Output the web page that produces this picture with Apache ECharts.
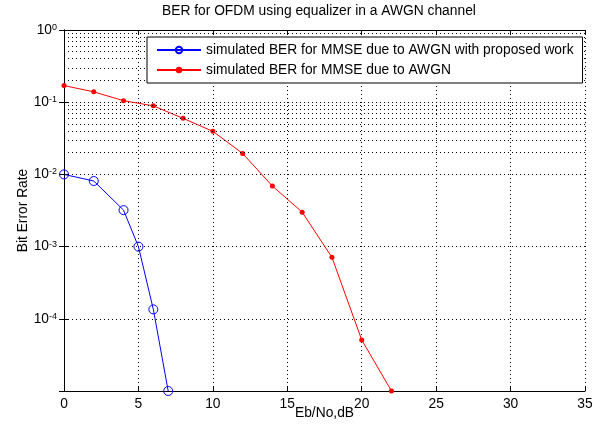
<!DOCTYPE html>
<html>
<head>
<meta charset="utf-8">
<script src="https://cdn.jsdelivr.net/npm/echarts@6/dist/echarts.min.js"></script>
<style>
html,body{margin:0;padding:0;background:#fff;}
#c{width:600px;height:429px;}
</style>
</head>
<body>
<div id="c"></div>
<script>
// Data
const ebnoProposed = [0, 2, 4, 5, 6, 7];
const berProposed = [0.0100, 0.0081, 0.0032, 0.0010, 0.000135, 0.00001];
const ebnoMMSE = [0, 2, 4, 6, 8, 10, 12, 14, 16, 18, 20, 22];
const berMMSE = [0.17, 0.139, 0.105, 0.089, 0.0597, 0.0395, 0.0195, 0.0069, 0.003, 0.00071, 0.000051, 0.00001];
const xTicks = [0, 5, 10, 15, 20, 25, 30, 35];
const yDecades = [1e-5, 1e-4, 1e-3, 1e-2, 1e-1, 1];
const minorMultipliers = [2, 3, 4, 5, 6, 7, 8, 9];
const seriesNames = ['simulated BER for MMSE due to AWGN with proposed work', 'simulated BER for MMSE due to AWGN'];

const FONT = 'Liberation Sans, Arial, sans-serif';
const FS = 13.8;
const dotted = [1, 3];

const minorLines = [];
yDecades.slice(0, -1).forEach(d => minorMultipliers.forEach(m => minorLines.push({ yAxis: d * m })));

const chart = echarts.init(document.getElementById('c'), null, { renderer: 'canvas' });

const xBase = {
  type: 'value', min: xTicks[0], max: xTicks[xTicks.length - 1], interval: 5,
  axisLine: { show: true, lineStyle: { color: '#000', width: 1 } },
  axisTick: { show: true, inside: true, length: 5, lineStyle: { color: '#000' } },
};
const yBase = {
  type: 'log', logBase: 10, min: yDecades[0], max: yDecades[yDecades.length - 1],
  axisLine: { show: true, lineStyle: { color: '#000', width: 1 } },
  axisTick: { show: true, inside: true, length: 5, lineStyle: { color: '#000' } },
};

chart.setOption({
  animation: false,
  backgroundColor: '#fff',
  textStyle: { fontFamily: FONT },
  title: {
    text: 'BER for OFDM using equalizer in a AWGN channel',
    left: 162, top: 4, padding: 0,
    textStyle: { fontSize: FS, fontWeight: 'normal', color: '#000', fontFamily: FONT }
  },
  grid: { left: 64, right: 15, top: 30, bottom: 38, containLabel: false, outerBoundsMode: 'none' },
  legend: {
    orient: 'vertical',
    left: 147, top: 37, z: 20,
    padding: [5, 9, 5, 9],
    itemGap: 4, itemWidth: 44, itemHeight: 8,
    backgroundColor: '#fff', borderColor: '#000', borderWidth: 1,
    textStyle: { fontSize: FS, color: '#000', fontFamily: FONT, lineHeight: 16 },
    data: seriesNames
  },
  xAxis: [
    Object.assign({}, xBase, {
      position: 'bottom',
      name: 'Eb/No,dB', nameLocation: 'middle', nameGap: 15, nameMoveOverlap: false,
      nameTextStyle: { fontSize: FS, color: '#000', fontFamily: FONT },
      axisLabel: { color: '#000', fontSize: FS, margin: 6, fontFamily: FONT },
      splitLine: { show: true, lineStyle: { color: '#000', type: dotted, width: 1 } }
    }),
    Object.assign({}, xBase, {
      position: 'top',
      axisLabel: { show: false },
      splitLine: { show: false }
    })
  ],
  yAxis: [
    Object.assign({}, yBase, {
      position: 'left',
      name: 'Bit Error Rate', nameLocation: 'middle', nameGap: 34, nameMoveOverlap: false,
      nameTextStyle: { fontSize: FS, color: '#000', fontFamily: FONT },
      axisLabel: {
        margin: 7,
        formatter: function (v) {
          const e = Math.round(Math.log10(v));
          if (e === -5) return '';
          return '{b|10}{e|' + e + '}';
        },
        rich: {
          b: { fontSize: FS, color: '#000', fontFamily: FONT, lineHeight: 14, verticalAlign: 'middle' },
          e: { fontSize: 9, color: '#000', fontFamily: FONT, lineHeight: 9, verticalAlign: 'top', padding: [0, 0, 10, 0] }
        }
      },
      splitLine: { show: true, lineStyle: { color: '#000', type: dotted, width: 1 } }
    }),
    Object.assign({}, yBase, {
      position: 'right',
      axisLabel: { show: false },
      splitLine: { show: false }
    })
  ],
  series: [
    {
      name: 'minor-grid', type: 'line', data: [], z: 1, silent: true,
      xAxisIndex: 0, yAxisIndex: 0,
      markLine: {
        silent: true, symbol: 'none', animation: false,
        label: { show: false },
        lineStyle: { color: '#000', type: dotted, width: 1 },
        emphasis: { disabled: true },
        data: minorLines
      }
    },
    {
      name: seriesNames[0], type: 'line', z: 3,
      data: ebnoProposed.map((x, i) => [x, berProposed[i]]),
      symbol: 'circle', symbolSize: 9,
      itemStyle: { color: 'rgba(255,255,255,0)', borderColor: '#0000ff', borderWidth: 1 },
      lineStyle: { color: '#0000ff', width: 1 },
      emphasis: { disabled: true }
    },
    {
      name: seriesNames[1], type: 'line', z: 3,
      data: ebnoMMSE.map((x, i) => [x, berMMSE[i]]),
      symbol: 'circle', symbolSize: 5,
      itemStyle: { color: '#ff0000', borderColor: '#ff0000', borderWidth: 0 },
      lineStyle: { color: '#ff0000', width: 1 },
      emphasis: { disabled: true }
    }
  ]
});
</script>
</body>
</html>
